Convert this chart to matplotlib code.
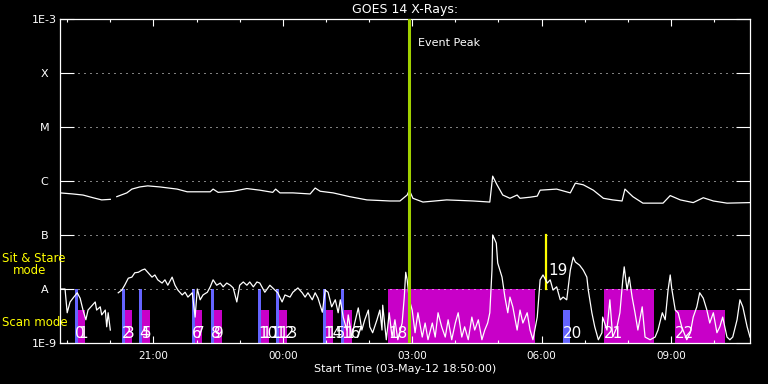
import numpy as np
import matplotlib
matplotlib.use("Agg")
import matplotlib.pyplot as plt
import matplotlib.dates as mdates
from matplotlib.ticker import NullLocator

# plot starts at 03-May-12 18:50:00 and covers 16 hours
start = np.datetime64("2012-05-03T18:50")
span_min = 960

# GOES 14 long channel (1-8 A): minutes after start, log10 flux (W/m^2)
long_min = [0, 18, 32, 46, 58, 70, 74, 79, 93, 100, 111, 122, 139, 163, 177, 209,
            213, 220, 241, 260, 278, 296, 300, 306, 324, 348, 355, 362, 380, 403,
            427, 459, 473, 483, 486, 491, 505, 538, 575, 598, 602, 608, 616, 626,
            636, 640, 654, 664, 668, 691, 710, 717, 728, 742, 756, 769, 782, 786,
            797, 811, 839, 849, 863, 881, 895, 909, 928, 960]
long_log = [-6.22, -6.24, -6.26, -6.31, -6.35, -6.34, np.nan, -6.29, -6.22, -6.15,
            -6.11, -6.09, -6.11, -6.15, -6.20, -6.20, -6.15, -6.21, -6.19, -6.14,
            -6.17, -6.21, -6.15, -6.22, -6.22, -6.24, -6.13, -6.19, -6.22, -6.29,
            -6.35, -6.37, -6.37, -6.26, -6.17, -6.32, -6.39, -6.35, -6.37, -6.39,
            -5.91, -6.07, -6.26, -6.32, -6.26, -6.32, -6.30, -6.28, -6.17, -6.15,
            -6.22, -6.04, -6.07, -6.17, -6.32, -6.35, -6.37, -6.15, -6.29, -6.41,
            -6.41, -6.27, -6.35, -6.40, -6.31, -6.37, -6.41, -6.40]

# GOES 14 short channel (0.5-4 A): minutes after start, log10 flux (W/m^2)
short_min = [0, 7, 10, 14, 18, 24, 28, 32, 36, 39, 45, 49, 51, 56, 58, 63, 65, 67, 70, 75,
             81, 86, 90, 95, 100, 104, 109, 114, 118, 122, 128, 132, 136, 142, 146, 150,
             156, 160, 164, 170, 174, 178, 184, 188, 191, 195, 199, 205, 209, 213, 218,
             223, 227, 232, 237, 241, 246, 250, 255, 260, 264, 269, 274, 278, 285, 292,
             299, 303, 309, 313, 320, 324, 331, 337, 341, 345, 351, 355, 359, 365, 369,
             373, 378, 383, 387, 390, 394, 399, 401, 406, 410, 415, 420, 424, 429, 431,
             435, 441, 445, 448, 449, 454, 458, 462, 466, 470, 476, 479, 481, 483, 486,
             490, 494, 498, 504, 508, 512, 518, 522, 526, 531, 536, 540, 545, 550, 554,
             559, 563, 568, 573, 577, 582, 587, 591, 595, 598, 601, 602, 607, 609, 615,
             619, 623, 626, 630, 636, 640, 644, 650, 654, 658, 664, 668, 672, 678, 682,
             686, 691, 696, 700, 705, 710, 714, 717, 723, 728, 733, 735, 740, 744, 749,
             754, 755, 761, 765, 769, 775, 779, 783, 785, 789, 792, 796, 800, 804, 810,
             814, 821, 828, 832, 838, 842, 846, 849, 851, 856, 860, 865, 872, 877, 881,
             886, 890, 895, 900, 904, 909, 914, 918, 922, 928, 932, 936, 942, 946, 950,
             956, 960]
short_log = [-8.00, -8.00, -8.44, -8.24, -8.17, -8.07, -8.17, -8.39, -8.57, -8.39,
             -8.30, -8.24, -8.39, -8.33, -8.48, -8.39, -8.70, -8.44, -8.76, np.nan,
             -8.07, -8.02, -7.93, -7.80, -7.78, -7.70, -7.69, -7.65, -7.63, -7.69,
             -7.78, -7.74, -7.83, -7.89, -7.83, -7.93, -7.78, -7.93, -8.02, -8.11,
             -8.06, -8.15, -8.07, -8.52, -8.00, -8.20, -8.11, -8.06, -7.96, -7.83,
             -7.93, -7.89, -7.96, -7.89, -7.93, -7.98, -8.24, -7.93, -7.87, -7.93,
             -7.87, -7.96, -7.87, -7.89, -8.06, -7.93, -8.02, -8.07, -8.24, -8.11,
             -8.15, -8.06, -7.98, -8.07, -8.15, -8.07, -8.20, -8.07, -8.17, -8.43,
             -8.02, -8.06, -8.33, -8.20, -8.44, -8.20, -8.52, -8.76, -8.48, -8.89,
             -8.63, -8.35, -8.76, -8.57, -8.39, -8.70, -8.81, -8.57, -8.39, -8.76,
             -8.30, -8.94, -8.44, -8.89, -8.57, -8.94, -8.63, -8.15, -7.69, -7.83,
             -8.20, -8.39, -8.81, -8.44, -8.89, -8.63, -8.94, -8.63, -8.89, -8.44,
             -8.70, -8.89, -8.57, -8.94, -8.63, -8.44, -8.89, -8.70, -8.94, -8.52,
             -8.76, -8.57, -8.94, -8.76, -8.63, -8.44, -7.65, -7.00, -7.15, -7.52,
             -7.78, -8.15, -8.44, -8.15, -8.33, -8.76, -8.39, -8.63, -8.44, -8.76,
             -8.94, -8.52, -7.83, -7.74, -7.89, -7.83, -8.02, -7.96, -8.20, -8.15,
             -8.20, -7.65, -7.41, -7.50, -7.56, -7.65, -7.78, -8.02, -8.44, -8.70,
             -8.94, -8.81, -8.52, -8.76, -8.20, -8.89, -8.70, -8.44, -7.83, -7.59,
             -8.02, -7.78, -8.15, -8.44, -8.76, -8.33, -8.89, -8.94, -8.89, -8.76,
             -8.44, -8.57, -8.02, -7.74, -7.98, -8.39, -8.44, -8.70, -8.94, -8.81,
             -8.52, -8.33, -8.07, -8.17, -8.39, -8.63, -8.44, -8.81, -8.70, -8.52,
             -8.89, -8.94, -8.89, -8.57, -8.20, -8.33, -8.70, -8.89]

# observation timeline (minutes after start)
ev_start = [21, 25, 86, 90, 110, 114, 184, 188, 210, 214, 276, 280, 300, 304,
            366, 370, 391, 395, 457, 676, 700, 757, 856]
ev_end = [25, 35, 90, 100, 114, 125, 188, 198, 214, 225, 280, 291, 304, 316,
          370, 380, 395, 406, 661, 676, 710, 826, 925]
ev_mode = ["stare", "scan"] * 9 + ["stare", "flag", "scan", "stare", "scan"]
ev_kind = ["blue", "magenta"] * 9 + ["magenta", "yellow", "blue", "magenta", "magenta"]

peak_min = 486

level_names = ["1E-9", "A", "B", "C", "M", "X", "1E-3"]
level_vals = [1e-9, 1e-8, 1e-7, 1e-6, 1e-5, 1e-4, 1e-3]

stare_top = 1e-8
scan_top = 10 ** -8.39
kind_color = {"blue": "#6464ff", "magenta": "#c800c8", "yellow": "#ffff00"}


def to_time(m):
    return start + np.asarray(m).astype("timedelta64[m]")


fig = plt.figure(figsize=(7.68, 3.84), dpi=100, facecolor="black")
ax = fig.add_axes([60 / 768, 41 / 384, 690 / 768, 324 / 384])
ax.set_facecolor("black")
ax.set_yscale("log")

# timeline blocks
for i in range(len(ev_start)):
    t0, t1 = to_time(ev_start[i]), to_time(ev_end[i])
    if ev_mode[i] == "flag":
        ax.plot([t0, t0], [1e-8, 1e-7], color=kind_color["yellow"], lw=1.6, zorder=2)
        ax.annotate(str(i), xy=(t0, 10 ** -7.65), xytext=(2, 0),
                    textcoords="offset points", color="white", fontsize=11,
                    va="center", ha="left", zorder=4)
        continue
    top = stare_top if ev_mode[i] == "stare" else scan_top
    ax.fill_between([t0, t1], 1e-9, top, color=kind_color[ev_kind[i]], lw=0,
                    antialiased=False, zorder=1)
    ax.text(t0, 10 ** -8.82, str(i), color="white", fontsize=11,
            va="center", ha="left", zorder=2)

# GOES curves
ax.plot(to_time(long_min), 10 ** np.array(long_log), color="white", lw=0.9, zorder=3)
ax.plot(to_time(short_min), 10 ** np.array(short_log), color="white", lw=0.9, zorder=3)

# event peak
tp = to_time(peak_min)
ax.axvline(tp, color="#a0d000", lw=2.2, zorder=5)
ax.annotate("Event Peak", xy=(tp, 0.926), xycoords=("data", "axes fraction"),
            xytext=(6.5, 0), textcoords="offset points", color="white",
            fontsize=8, va="center")

ax.set_xlim(to_time(0), to_time(span_min))
ax.set_ylim(1e-9, 1e-3)
ax.set_yticks(level_vals)
ax.set_yticklabels(level_names)
ax.yaxis.set_minor_locator(NullLocator())
for lab in ax.get_yticklabels():
    lab.set_ha("center")
ax.grid(axis="y", color="white", ls=(0, (1, 5)), lw=0.72)

ax.xaxis.set_major_locator(mdates.HourLocator(byhour=range(0, 24, 3)))
ax.xaxis.set_minor_locator(mdates.HourLocator())
ax.xaxis.set_major_formatter(mdates.DateFormatter("%H:%M"))

ax.tick_params(axis="x", which="major", direction="in", top=True, bottom=True,
               length=5, width=0.8, color="white", labelcolor="white",
               labelsize=7.5, pad=6)
ax.tick_params(axis="x", which="minor", direction="in", top=True, bottom=True,
               length=2.5, width=0.8, color="white")
ax.tick_params(axis="y", which="major", direction="in", left=True, right=True,
               length=10, width=0.8, color="white", labelcolor="white",
               labelsize=8, pad=11.2)
for s in ax.spines.values():
    s.set_color("white")
    s.set_linewidth(0.9)

ax.set_title("GOES 14 X-Rays:", color="white", fontsize=9, pad=4)
ax.set_xlabel("Start Time (03-May-12 18:50:00)", color="white", fontsize=8, labelpad=2)

# mode labels on the left
fig.text(2 / 768, 1 - 259 / 384, "Sit & Stare", color="#ffff00", fontsize=8.5,
         ha="left", va="center")
fig.text(13 / 768, 1 - 271 / 384, "mode", color="#ffff00", fontsize=8.5,
         ha="left", va="center")
fig.text(2 / 768, 1 - 323 / 384, "Scan mode", color="#ffff00", fontsize=8.5,
         ha="left", va="center")

fig.savefig("out.png", dpi=100, facecolor="black")
